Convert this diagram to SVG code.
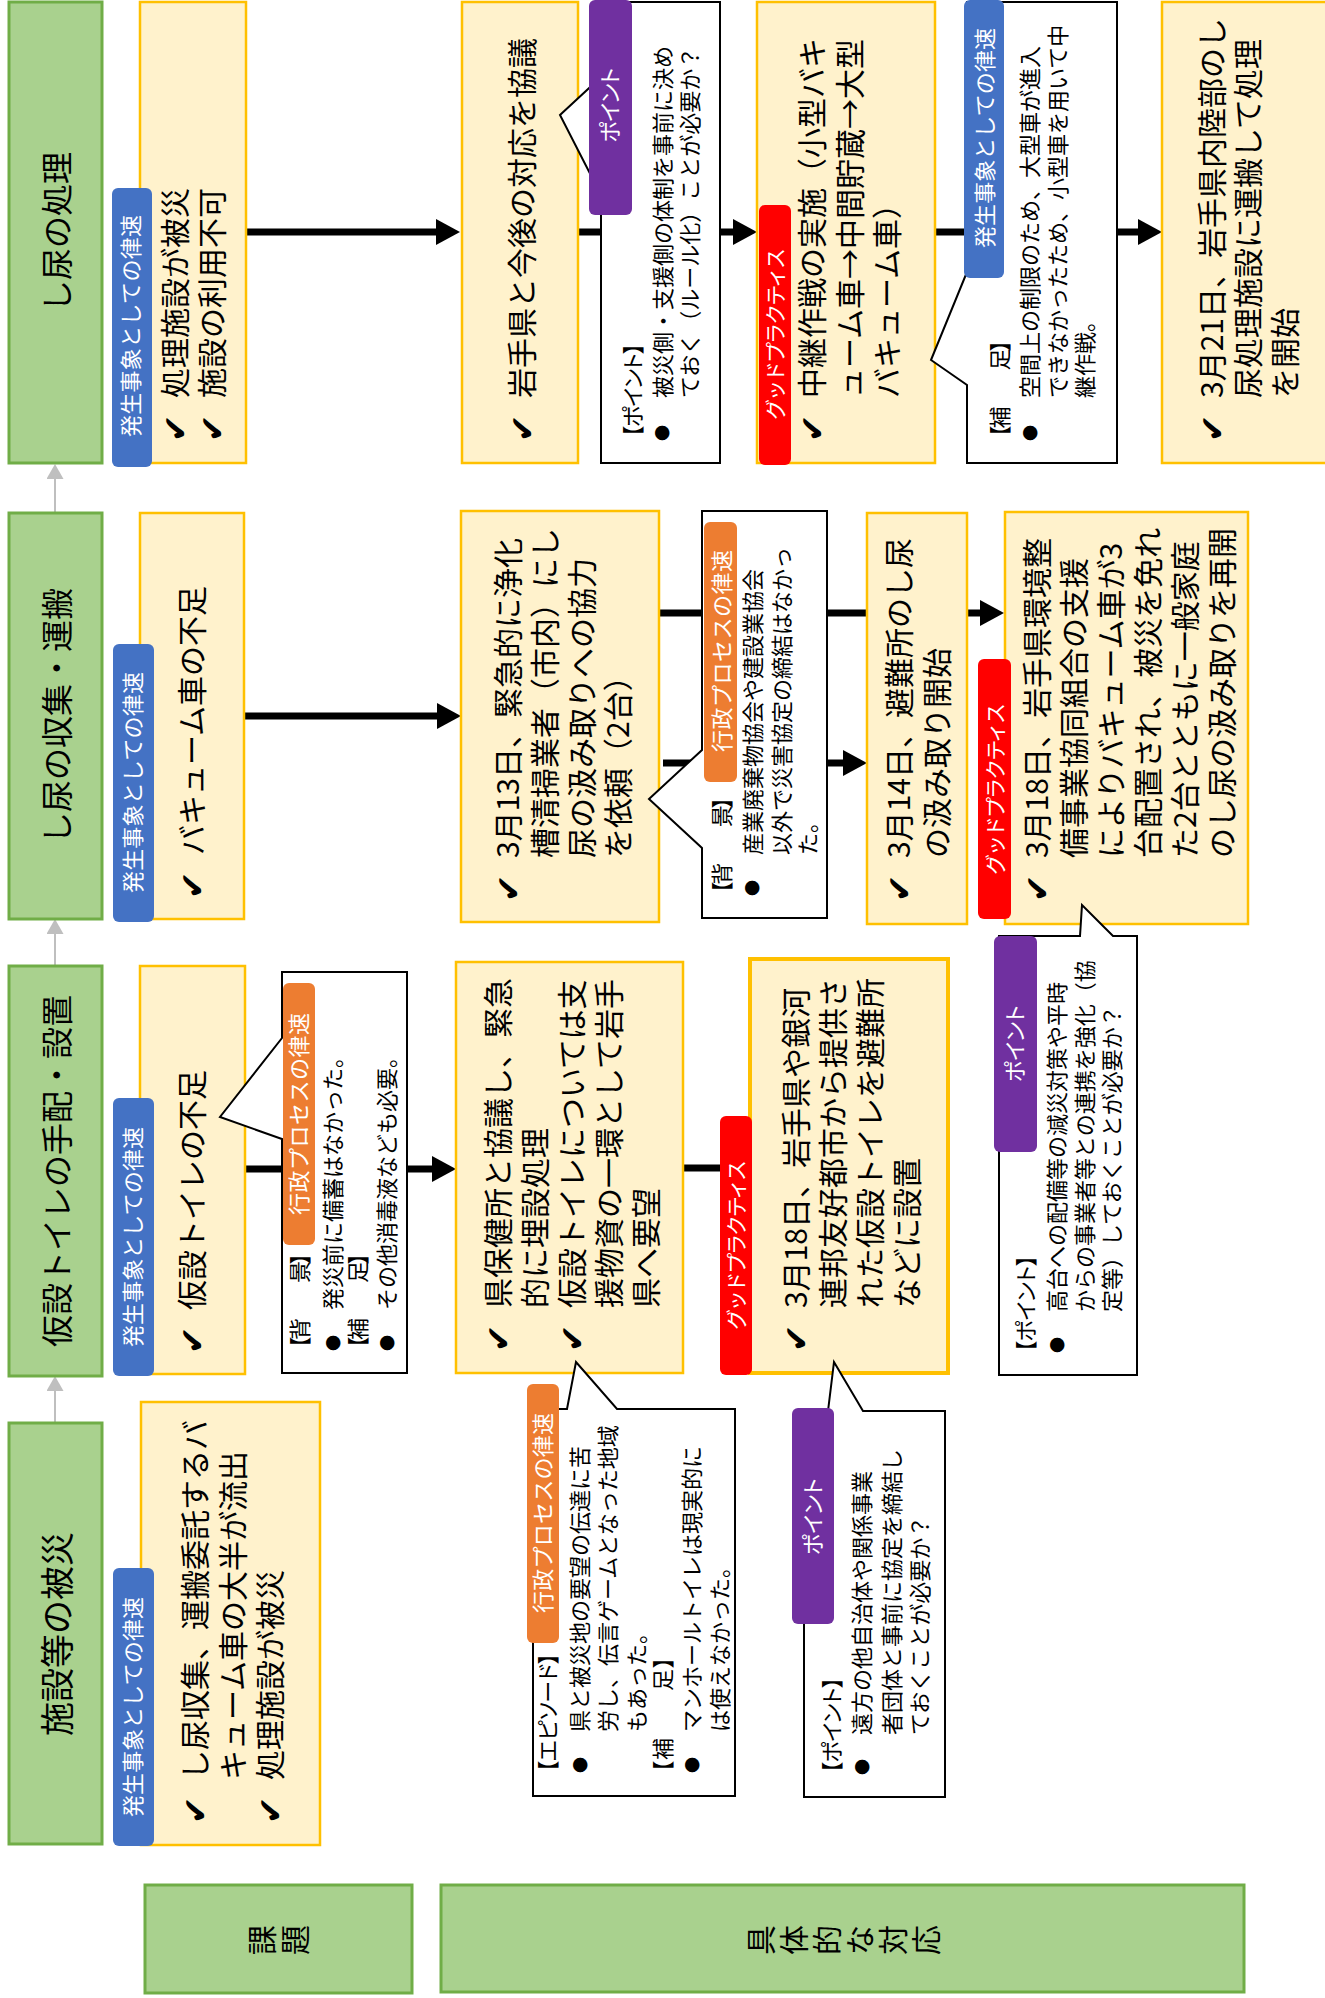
<svg xmlns="http://www.w3.org/2000/svg" width="1325" height="1998" viewBox="0 0 1325 1998">
<style>
text{font-family:"Noto Sans CJK JP","Noto Sans CJK SC",sans-serif;fill:#000}
.h{font-size:32px;text-anchor:middle}
.t{font-size:30px}
.s{font-size:22px}
.k{font-family:"DejaVu Sans",sans-serif;font-size:33px}
.b{font-size:16px;text-anchor:middle}
.l{font-size:22px;fill:#fff;text-anchor:middle}
.p{font-feature-settings:"palt"}
.g{fill:#A9D18E;stroke:#70AD47;stroke-width:3}
.y{fill:#FFF2CC;stroke:#FFC000;stroke-width:2.5}
.c{fill:#fff;stroke:#000;stroke-width:2}
.bl{fill:#4472C4}.pu{fill:#7030A0}.rd{fill:#FF0000}.or{fill:#ED7D31}
.a{fill:none;stroke:#000;stroke-width:7;marker-end:url(#ah)}
.ga{fill:none;stroke:#BFBFBF;stroke-width:2;marker-end:url(#gh)}
</style>
<defs>
<marker id="ah" markerUnits="userSpaceOnUse" markerWidth="24" markerHeight="26" refX="14" refY="13" orient="auto"><path d="M0,0 L24,13 L0,26 Z" fill="#000"/></marker>
<marker id="gh" markerUnits="userSpaceOnUse" markerWidth="15" markerHeight="17" refX="10" refY="8.5" orient="auto"><path d="M0,0 L15,8.5 L0,17 Z" fill="#BFBFBF"/></marker>
</defs>
<rect width="1325" height="1998" fill="#fff"/>

<g id="connectors">
<path class="a" d="M247,232 H450"/>
<path class="a" d="M578,232 H747"/>
<path class="a" d="M935,232 H1152"/>
<path class="a" d="M244,716 H451"/>
<path class="a" d="M659,613 H994"/>
<path class="a" d="M663,763 H857"/>
<path class="a" d="M245,1169 H446"/>
<path class="a" d="M683,1168 H740"/>
<path class="ga" d="M55,513 V469"/>
<path class="ga" d="M55,966 V924"/>
<path class="ga" d="M55,1423 V1381"/>
</g>

<g id="hdr1"><rect class="g" x="9" y="2" width="93" height="461"/>
<g transform="matrix(0,-1,1,0,0,1998)"><text class="h" x="1766" y="69.2">し尿の処理</text></g></g>
<g id="hdr2"><rect class="g" x="9" y="513" width="93" height="406"/>
<g transform="matrix(0,-1,1,0,0,1998)"><text class="h" x="1282" y="69.2">し尿の収集・運搬</text></g></g>
<g id="hdr3"><rect class="g" x="9" y="966" width="93" height="410"/>
<g transform="matrix(0,-1,1,0,0,1998)"><text class="h" x="827" y="69.2">仮設トイレの手配・設置</text></g></g>
<g id="hdr4"><rect class="g" x="9" y="1423" width="93" height="421"/>
<g transform="matrix(0,-1,1,0,0,1998)"><text class="h" x="364" y="69.9" style="font-size:34px">施設等の被災</text></g></g>

<g id="kadai"><rect class="g" x="145" y="1885" width="267" height="108"/>
<g transform="matrix(0,-1,1,0,0,1998)"><text style="font-size:30px;text-anchor:middle"><tspan x="58" y="273.4">課</tspan><tspan x="58" y="306.4">題</tspan></text></g></g>
<g id="taio"><rect class="g" x="441" y="1885" width="803" height="107"/>
<g transform="matrix(0,-1,1,0,0,1998)"><text style="font-size:30px;text-anchor:middle"><tspan x="58" y="771.9">具</tspan><tspan x="58" y="804.9">体</tspan><tspan x="58" y="837.9">的</tspan><tspan x="58" y="870.9">な</tspan><tspan x="58" y="903.9">対</tspan><tspan x="58" y="936.9">応</tspan></text></g></g>

<g id="issue1"><rect class="y" x="140" y="2" width="106" height="461"/>
<rect class="bl" x="112" y="188" width="40" height="279" rx="6"/>
<g transform="matrix(0,-1,1,0,0,1998)">
<text class="l" x="1672" y="139.4" textLength="222">発生事象としての律速</text>
<text class="k" x="1556" y="187">✔</text><text class="k" x="1556" y="224">✔</text>
<text class="t"><tspan x="1600" y="186.4">処理施設が被災</tspan><tspan x="1600" y="223.4">施設の利用不可</tspan></text>
</g></g>

<g id="resp1a"><rect class="y" x="462" y="2" width="116" height="461"/>
<g transform="matrix(0,-1,1,0,0,1998)">
<text class="k" x="1556" y="534">✔</text>
<text class="t" x="1600" y="533.4">岩手県と今後の対応を協議</text>
</g></g>

<g id="resp1b"><rect class="y" x="757" y="2" width="178" height="461"/>
<rect class="rd" x="759" y="205" width="32" height="260" rx="6"/>
<g transform="matrix(0,-1,1,0,0,1998)">
<text class="l" x="1664" y="783" textLength="172" style="font-size:21px">グッドプラクティス</text>
<text class="k" x="1556" y="824">✔</text>
<text class="t"><tspan x="1600" y="823.4">中継作戦の実施（小型バキ</tspan><tspan x="1600" y="861.4">ューム車→中間貯蔵→大型</tspan><tspan x="1600" y="898.4">バキューム車）</tspan></text>
</g></g>

<g id="resp1c"><rect class="y" x="1162" y="2" width="170" height="461"/>
<g transform="matrix(0,-1,1,0,0,1998)">
<text class="k" x="1556" y="1224">✔</text>
<text class="t"><tspan x="1600" y="1223.4">3月21日、岩手県内陸部のし</tspan><tspan x="1600" y="1259.4">尿処理施設に運搬して処理</tspan><tspan x="1600" y="1296.4">を開始</tspan></text>
</g></g>

<g id="issue2"><rect class="y" x="140" y="513" width="104" height="406"/>
<rect class="bl" x="113" y="644" width="41" height="278" rx="6"/>
<g transform="matrix(0,-1,1,0,0,1998)">
<text class="l" x="1215.5" y="141.4" textLength="221">発生事象としての律速</text>
<text class="k" x="1099" y="204">✔</text>
<text class="t" x="1143" y="203.4">バキューム車の不足</text>
</g></g>

<g id="resp2a"><rect class="y" x="461" y="511" width="198" height="411"/>
<g transform="matrix(0,-1,1,0,0,1998)">
<text class="k" x="1096" y="520">✔</text>
<text class="t"><tspan x="1140" y="519.4">3月13日、緊急的に浄化</tspan><tspan x="1140" y="556.4">槽清掃業者（市内）にし</tspan><tspan x="1140" y="593.4">尿の汲み取りへの協力</tspan><tspan x="1140" y="629.4">を依頼（2台）</tspan></text>
</g></g>

<g id="resp2b"><rect class="y" x="867" y="513" width="100" height="411"/>
<g transform="matrix(0,-1,1,0,0,1998)">
<text class="k" x="1096" y="911">✔</text>
<text class="t"><tspan x="1140" y="910.4">3月14日、避難所のし尿</tspan><tspan x="1140" y="948.4">の汲み取り開始</tspan></text>
</g></g>

<g id="resp2c"><rect class="y" x="1005" y="512" width="243" height="412"/>
<rect class="rd" x="978" y="659" width="33" height="260" rx="6"/>
<g transform="matrix(0,-1,1,0,0,1998)">
<text class="l" x="1209" y="1003" textLength="172" style="font-size:21px">グッドプラクティス</text>
<text class="k" x="1096" y="1049">✔</text>
<text class="t"><tspan x="1140" y="1048.4">3月18日、岩手県環境整</tspan><tspan x="1140" y="1085.4">備事業協同組合の支援</tspan><tspan x="1140" y="1122.4">によりバキューム車が3</tspan><tspan x="1140" y="1159.4">台配置され、被災を免れ</tspan><tspan x="1140" y="1196.4">た2台とともに一般家庭</tspan><tspan x="1140" y="1233.4">のし尿の汲み取りを再開</tspan></text>
</g></g>

<g id="issue3"><rect class="y" x="140" y="966" width="105" height="408"/>
<rect class="bl" x="113" y="1098" width="41" height="278" rx="6"/>
<g transform="matrix(0,-1,1,0,0,1998)">
<text class="l" x="761" y="141.4" textLength="220">発生事象としての律速</text>
<text class="k" x="644" y="204">✔</text>
<text class="t" x="688" y="203.4">仮設トイレの不足</text>
</g></g>

<g id="resp3a"><rect class="y" x="456" y="962" width="227" height="411"/>
<g transform="matrix(0,-1,1,0,0,1998)">
<text class="k" x="646" y="510">✔</text><text class="k" x="646" y="584">✔</text>
<text class="t"><tspan x="690" y="509.4">県保健所と協議し、緊急</tspan><tspan x="690" y="546.4">的に埋設処理</tspan><tspan x="690" y="583.4">仮設トイレについては支</tspan><tspan x="690" y="620.4">援物資の一環として岩手</tspan><tspan x="690" y="657.4">県へ要望</tspan></text>
</g></g>

<g id="resp3b"><rect class="y" x="750" y="959" width="198" height="414" style="stroke-width:4"/>
<rect class="rd" x="720" y="1116" width="32" height="259" rx="6"/>
<g transform="matrix(0,-1,1,0,0,1998)">
<text class="l" x="753" y="744" textLength="170" style="font-size:21px">グッドプラクティス</text>
<text class="k" x="646" y="808">✔</text>
<text class="t"><tspan x="690" y="807.4">3月18日、岩手県や銀河</tspan><tspan x="690" y="844.4">連邦友好都市から提供さ</tspan><tspan x="690" y="881.4">れた仮設トイレを避難所</tspan><tspan x="690" y="918.4">などに設置</tspan></text>
</g></g>

<g id="issue4"><rect class="y" x="141" y="1402" width="179" height="443"/>
<rect class="bl" x="113" y="1568" width="41" height="278" rx="6"/>
<g transform="matrix(0,-1,1,0,0,1998)">
<text class="l" x="291" y="141.4" textLength="220">発生事象としての律速</text>
<text class="k" x="174" y="207">✔</text><text class="k" x="174" y="282">✔</text>
<text class="t"><tspan x="218" y="206.4">し尿収集、運搬委託するバ</tspan><tspan x="218" y="244.4">キューム車の大半が流出</tspan><tspan x="218" y="281.4">処理施設が被災</tspan></text>
</g></g>

<g id="note1"><path class="c" d="M601,2 H720 V463 H601 V195 L560,115 L601,77 Z"/>
<rect class="pu" x="589" y="0" width="43" height="215" rx="6"/>
<g transform="matrix(0,-1,1,0,0,1998)">
<text class="l p" x="1893" y="618.4" textLength="75">ポイント</text>
<text class="s p" x="1561" y="641.4" textLength="94">【ポイント】</text>
<text class="b" x="1565" y="668">●</text>
<text class="s"><tspan x="1600" y="671.4">被災側・支援側の体制を事前に決め</tspan><tspan x="1600" y="698.4">ておく（ルール化）ことが必要か？</tspan></text>
</g></g>

<g id="note2"><path class="c" d="M967,2 H1117 V463 H967 V385 L931,360 L967,272 Z"/>
<rect class="bl" x="964" y="0" width="40" height="278" rx="6"/>
<g transform="matrix(0,-1,1,0,0,1998)">
<text class="l" x="1860" y="993.4" textLength="220">発生事象としての律速</text>
<text class="s p" x="1561" y="1008.4" textLength="97">【補　　足】</text>
<text class="b" x="1565" y="1036">●</text>
<text class="s"><tspan x="1600" y="1038.4">空間上の制限のため、大型車が進入</tspan><tspan x="1600" y="1066.4">できなかったため、小型車を用いて中</tspan><tspan x="1600" y="1093.4">継作戦。</tspan></text>
</g></g>

<g id="note3"><path class="c" d="M702,511 H827 V918 H702 V848 L649,799 L702,750 Z"/>
<rect class="or" x="704" y="522" width="33" height="260" rx="6"/>
<g transform="matrix(0,-1,1,0,0,1998)">
<text class="l" x="1347" y="730.4" textLength="202">行政プロセスの律速</text>
<text class="s p" x="1105" y="730.4" textLength="96">【背　　景】</text>
<text class="b" x="1110" y="758">●</text>
<text class="s"><tspan x="1143" y="761.4">産業廃棄物協会や建設業協会</tspan><tspan x="1143" y="790.4">以外で災害協定の締結はなかっ</tspan><tspan x="1143" y="816.4">た。</tspan></text>
</g></g>

<g id="note4"><path class="c" d="M999,936 H1080 L1082,905 L1113,936 H1137 V1375 H999 Z"/>
<rect class="pu" x="994" y="936" width="43" height="216" rx="6"/>
<g transform="matrix(0,-1,1,0,0,1998)">
<text class="l p" x="954.5" y="1023.4" textLength="77">ポイント</text>
<text class="s p" x="646" y="1034.4" textLength="97">【ポイント】</text>
<text class="b" x="653" y="1063">●</text>
<text class="s"><tspan x="686" y="1065.4">高台への配備等の減災対策や平時</tspan><tspan x="686" y="1093.4">からの事業者等との連携を強化（協</tspan><tspan x="686" y="1120.4">定等）しておくことが必要か？</tspan></text>
</g></g>

<g id="note5"><path class="c" d="M282,972 H407 V1373 H282 V1139 L220,1117 L282,1038 Z"/>
<rect class="or" x="283" y="983" width="32" height="262" rx="6"/>
<g transform="matrix(0,-1,1,0,0,1998)">
<text class="l" x="884" y="307.4" textLength="202">行政プロセスの律速</text>
<text class="s p" x="650" y="308.4" textLength="95">【背　　景】</text>
<text class="b" x="655" y="339">●</text>
<text class="s" x="688" y="341.4">発災前に備蓄はなかった。</text>
<text class="s p" x="650" y="366.4" textLength="95">【補　　足】</text>
<text class="b" x="655" y="393">●</text>
<text class="s" x="688" y="395.4">その他消毒液なども必要。</text>
</g></g>

<g id="note6"><path class="c" d="M533,1409 H567 L576,1362 L617,1409 H735 V1796 H533 Z"/>
<rect class="or" x="527" y="1384" width="32" height="259" rx="6"/>
<g transform="matrix(0,-1,1,0,0,1998)">
<text class="l" x="485" y="551.4" textLength="200">行政プロセスの律速</text>
<text class="s p" x="226" y="556.4" textLength="119">【エピソード】</text>
<text class="b" x="233" y="586">●</text>
<text class="s"><tspan x="266" y="588.4">県と被災地の要望の伝達に苦</tspan><tspan x="266" y="616.4">労し、伝言ゲームとなった地域</tspan><tspan x="266" y="645.4">もあった。</tspan></text>
<text class="s p" x="226" y="671.4" textLength="115">【補　　足】</text>
<text class="b" x="233" y="698">●</text>
<text class="s"><tspan x="266" y="700.4">マンホールトイレは現実的に</tspan><tspan x="266" y="728.4">は使えなかった。</tspan></text>
</g></g>

<g id="note7"><path class="c" d="M804,1411 H828 L834,1362 L863,1411 H945 V1797 H804 Z"/>
<rect class="pu" x="792" y="1408" width="42" height="216" rx="6"/>
<g transform="matrix(0,-1,1,0,0,1998)">
<text class="l p" x="481.5" y="821.4" textLength="77">ポイント</text>
<text class="s p" x="225" y="840.4" textLength="96">【ポイント】</text>
<text class="b" x="231" y="868">●</text>
<text class="s"><tspan x="263" y="870.4">遠方の他自治体や関係事業</tspan><tspan x="263" y="900.4">者団体と事前に協定を締結し</tspan><tspan x="263" y="928.4">ておくことが必要か？</tspan></text>
</g></g>
</svg>
